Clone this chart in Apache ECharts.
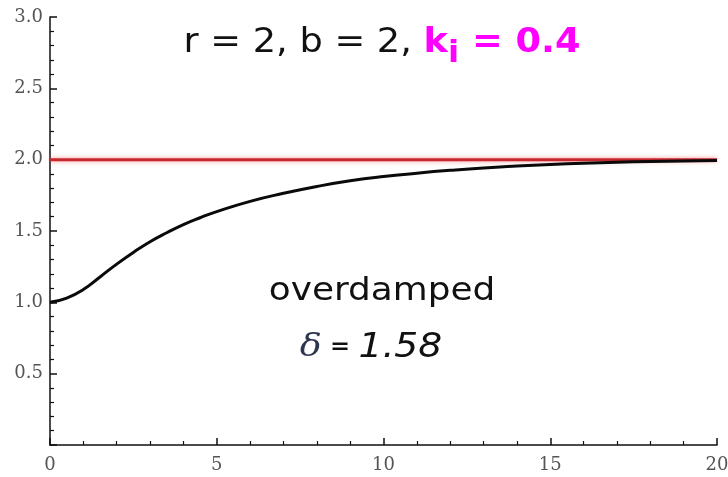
<!DOCTYPE html>
<html>
<head>
<meta charset="utf-8">
<script src="https://cdn.jsdelivr.net/npm/echarts@6/dist/echarts.min.js"></script>
<style>
  html, body { margin: 0; padding: 0; background: #fff; }
  #chartDiv { width: 728px; height: 477px; }
</style>
</head>
<body>
<div id="chartDiv"></div>
<script>
// response curve
var timeArray = [0, 0.5, 1, 1.5, 2, 2.5, 3, 3.5, 4, 4.5, 5, 6, 7, 8, 9, 10, 11, 12, 13, 14, 15, 16, 17, 18, 19, 20]
var responseArray = [1.00, 1.03, 1.09, 1.178, 1.268, 1.35, 1.425, 1.488, 1.545, 1.593, 1.636, 1.708, 1.764, 1.812, 1.852, 1.882, 1.905, 1.925, 1.942, 1.955, 1.966, 1.975, 1.982, 1.987, 1.991, 1.994]
// set point line
var targetX = [0, 20]
var targetY = [2, 2]

var curveData = []
for (var i = 0; i < timeArray.length; ++i) {
  curveData.push([timeArray[i], responseArray[i]])
}
var targetData = []
for (var j = 0; j < targetX.length; ++j) {
  targetData.push([targetX[j], targetY[j]])
}

var myChart = echarts.init(document.getElementById('chartDiv'))

var tickLabel = {
  color: '#555',
  fontFamily: 'DejaVu Serif',
  fontSize: 18
}

option = {
  animation: false,
  grid: {
    left: 50,
    right: 11,
    top: 17,
    bottom: 32,
    outerBoundsMode: 'none'
  },
  xAxis: {
    type: 'value',
    min: 0,
    max: 20,
    interval: 5,
    axisLine: { lineStyle: { color: '#111', width: 1.5 } },
    axisTick: { inside: true, length: 7, lineStyle: { color: '#111', width: 1.5 } },
    minorTick: { show: true, splitNumber: 5, length: 4, lineStyle: { color: '#111', width: 1.2 } },
    splitLine: { show: false },
    axisLabel: Object.assign({ margin: 11 }, tickLabel)
  },
  yAxis: {
    type: 'value',
    min: 0,
    max: 3,
    interval: 0.5,
    axisLine: { show: true, lineStyle: { color: '#111', width: 1.5 } },
    axisTick: { show: true, inside: true, length: 7, lineStyle: { color: '#111', width: 1.5 } },
    minorTick: { show: true, splitNumber: 5, length: 4, lineStyle: { color: '#111', width: 1.2 } },
    splitLine: { show: false },
    axisLabel: Object.assign({
      margin: 7,
      formatter: function (v) { return v === 0 ? '' : v.toFixed(1) }
    }, tickLabel)
  },
  graphic: [
    {
      type: 'text',
      x: 382,
      y: 43,
      scaleX: 1.08,
      style: {
        text: '{a|r = 2, b = 2, }{k|k}{i|i}{k| = 0.4}',
        textAlign: 'center',
        textVerticalAlign: 'middle',
        rich: {
          a: { fontFamily: 'DejaVu Sans', fontSize: 34, fill: '#111', lineHeight: 52 },
          k: { fontFamily: 'DejaVu Sans', fontWeight: 'bold', fontSize: 34, fill: '#ff00ff', lineHeight: 52 },
          i: { fontFamily: 'DejaVu Sans', fontWeight: 'bold', fontSize: 30, fill: '#ff00ff', lineHeight: 52, verticalAlign: 'bottom' }
        }
      }
    },
    {
      type: 'text',
      x: 382,
      y: 292,
      scaleX: 1.12,
      style: {
        text: 'overdamped',
        textAlign: 'center',
        textVerticalAlign: 'middle',
        fontFamily: 'DejaVu Sans',
        fontSize: 32,
        fill: '#111'
      }
    },
    {
      type: 'text',
      x: 371,
      y: 348,
      scaleX: 1.14,
      style: {
        text: '{d|δ}{e| = }{n|1.58}',
        textAlign: 'center',
        textVerticalAlign: 'middle',
        rich: {
          d: { fontFamily: 'DejaVu Serif', fontStyle: 'italic', fontSize: 32, fill: '#2e3652' },
          e: { fontFamily: 'DejaVu Sans', fontWeight: 'bold', fontSize: 21, fill: '#111' },
          n: { fontFamily: 'DejaVu Sans', fontStyle: 'italic', fontSize: 33, fill: '#111' }
        }
      }
    }
  ],
  series: [
    {
      name: 'target',
      type: 'line',
      symbol: 'none',
      data: targetData,
      lineStyle: {
        color: '#c62830',
        width: 3,
        shadowBlur: 4,
        shadowColor: 'rgba(240,90,90,0.7)'
      },
      z: 2
    },
    {
      name: 'response',
      type: 'line',
      smooth: 0.5,
      symbol: 'none',
      data: curveData,
      lineStyle: { color: '#0a0a0a', width: 3 },
      z: 3
    }
  ]
}

myChart.setOption(option)
window.addEventListener('resize', function () {
  myChart.resize()
})
</script>
</body>
</html>
